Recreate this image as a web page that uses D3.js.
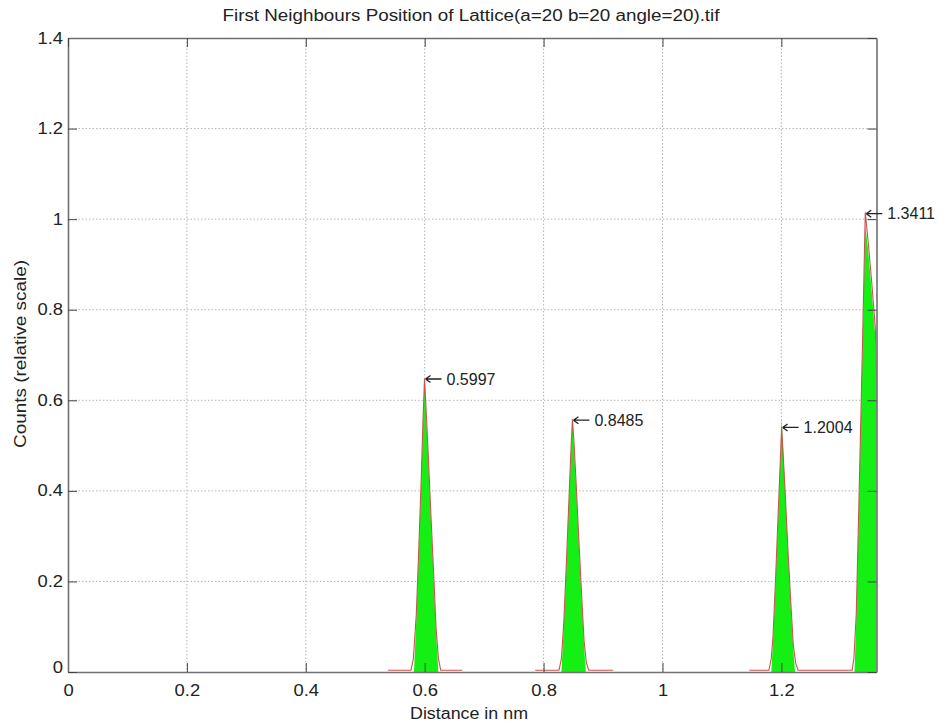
<!DOCTYPE html>
<html><head><meta charset="utf-8">
<script src="https://cdn.jsdelivr.net/npm/d3@7"></script>
<style>body{margin:0;background:#fff} text{font-family:"Liberation Sans",Arial,sans-serif;fill:#222}</style>
</head><body><svg id="c" width="950" height="724"></svg>
<script>
const titleText = "First Neighbours Position of Lattice(a=20 b=20 angle=20).tif";
const xLabel = "Distance in nm";
const yLabel = "Counts (relative scale)";
const xTicks = [0, 0.2, 0.4, 0.6, 0.8, 1, 1.2];
const yTicks = [0, 0.2, 0.4, 0.6, 0.8, 1, 1.2, 1.4];

// green histogram (counts)
const histDistance = [
  0.582, 0.586, 0.590, 0.594, 0.597, 0.5997, 0.602, 0.606, 0.610, 0.615, 0.619, 0.623,
  0.830, 0.834, 0.838, 0.842, 0.846, 0.8485, 0.851, 0.855, 0.859, 0.864, 0.868, 0.871,
  1.183, 1.186, 1.190, 1.194, 1.198, 1.2004, 1.203, 1.207, 1.211, 1.216, 1.220, 1.223,
  1.323, 1.326, 1.330, 1.334, 1.338, 1.3411, 1.346, 1.352, 1.358, 1.364, 1.370
];
const histCounts = [
  0, 0.12, 0.26, 0.41, 0.54, 0.65, 0.58, 0.47, 0.35, 0.21, 0.09, 0,
  0, 0.10, 0.22, 0.35, 0.48, 0.56, 0.50, 0.40, 0.29, 0.16, 0.06, 0,
  0, 0.07, 0.19, 0.32, 0.46, 0.56, 0.49, 0.38, 0.27, 0.14, 0.05, 0,
  0, 0.12, 0.34, 0.57, 0.80, 0.99, 0.93, 0.84, 0.74, 0.45, 0
];

// red fitted profile (null = gap)
const fitDistance = [
  0.538, 0.577, 0.581, 0.586, 0.590, 0.594, 0.597, 0.5997, 0.602, 0.606, 0.610, 0.615, 0.619, 0.623, 0.627, 0.663, null,
  0.786, 0.826, 0.830, 0.834, 0.838, 0.842, 0.846, 0.8485, 0.851, 0.855, 0.859, 0.864, 0.868, 0.872, 0.876, 0.917, null,
  1.146, 1.179, 1.183, 1.186, 1.190, 1.194, 1.198, 1.2004, 1.203, 1.207, 1.211, 1.216, 1.220, 1.224, 1.228, 1.270,
  1.319, 1.322, 1.326, 1.330, 1.334, 1.338, 1.3411, 1.346, 1.352, 1.358, 1.364, 1.370
];
const fitCounts = [
  0.004, 0.004, 0.03, 0.13, 0.27, 0.42, 0.55, 0.648, 0.59, 0.48, 0.36, 0.22, 0.10, 0.03, 0.004, 0.004, null,
  0.004, 0.004, 0.03, 0.11, 0.23, 0.36, 0.49, 0.558, 0.51, 0.41, 0.30, 0.17, 0.07, 0.02, 0.004, 0.004, null,
  0.004, 0.004, 0.03, 0.08, 0.20, 0.33, 0.46, 0.54, 0.48, 0.38, 0.27, 0.15, 0.06, 0.02, 0.004, 0.004,
  0.004, 0.03, 0.13, 0.35, 0.58, 0.82, 1.015, 0.95, 0.86, 0.76, 0.47, 0.004
];

const peakPositions = [0.5997, 0.8485, 1.2004, 1.3411];
const peakHeights = [0.647, 0.556, 0.54, 1.012];
const peakLabels = ["0.5997", "0.8485", "1.2004", "1.3411"];

const svg = d3.select("#c");
const L = 68, R = 876.5, T = 38, B = 672;
const x = d3.scaleLinear().domain([0, 1.36]).range([L, R]);
const y = d3.scaleLinear().domain([0, 1.4]).range([B, T]);

function stretch(sel, f) {
  sel.each(function () {
    const w = this.getComputedTextLength();
    d3.select(this).attr("textLength", w * f).attr("lengthAdjust", "spacingAndGlyphs");
  });
}

svg.append("defs").append("clipPath").attr("id", "clip")
  .append("rect").attr("x", L).attr("y", T).attr("width", R - L).attr("height", B - T);

// grid
const grid = svg.append("g").attr("stroke", "#b4b4b4").attr("stroke-width", 1).attr("stroke-dasharray", "1.5,2");
grid.selectAll(".gx").data(xTicks.filter(d => d > 0)).join("line")
  .attr("x1", d => x(d)).attr("x2", d => x(d)).attr("y1", T).attr("y2", B);
grid.selectAll(".gy").data(yTicks.filter(d => d > 0 && d < 1.4)).join("line")
  .attr("y1", d => y(d)).attr("y2", d => y(d)).attr("x1", L).attr("x2", R);

// data
const histData = histDistance.map((d, i) => [d, histCounts[i]]);
const fitData = fitDistance.map((d, i) => [d, fitCounts[i]]);
const plot = svg.append("g").attr("clip-path", "url(#clip)");
plot.append("path").datum(histData)
  .attr("fill", "#14f014")
  .attr("d", d3.area().x(d => x(d[0])).y0(y(0)).y1(d => y(d[1])));
plot.append("path").datum(fitData)
  .attr("fill", "none").attr("stroke", "#c8564c").attr("stroke-width", 1.1)
  .attr("d", d3.line().defined(d => d[0] !== null).x(d => x(d[0])).y(d => y(d[1])));

// axes
const axCol = "#707070";
function styleAxis(g) {
  g.select(".domain").attr("stroke", axCol).attr("stroke-width", 1.6);
  g.selectAll(".tick line").attr("stroke", "#444").attr("stroke-width", 1);
  g.selectAll(".tick text").attr("fill", "#222").style("font-size", "16px")
    .style("font-family", '"Liberation Sans",Arial,sans-serif');
}
const gx = svg.append("g").attr("transform", `translate(0,${B})`)
  .call(d3.axisBottom(x).tickValues(xTicks).tickSize(-9).tickSizeOuter(0).tickPadding(13).tickFormat(d3.format("~g")));
styleAxis(gx);
const gy = svg.append("g").attr("transform", `translate(${L},0)`)
  .call(d3.axisLeft(y).tickValues(yTicks).tickSize(-9).tickSizeOuter(0).tickPadding(5).tickFormat(d3.format("~g")));
styleAxis(gy);
const gt = svg.append("g").attr("transform", `translate(0,${T})`)
  .call(d3.axisTop(x).tickValues(xTicks).tickSize(-9).tickSizeOuter(0).tickFormat(""));
styleAxis(gt);
const gr = svg.append("g").attr("transform", `translate(${R},0)`)
  .call(d3.axisRight(y).tickValues(yTicks).tickSize(-9).tickSizeOuter(0).tickFormat(""));
styleAxis(gr);
stretch(gx.selectAll(".tick text"), 1.15);
stretch(gy.selectAll(".tick text"), 1.15);
gy.selectAll(".tick text").filter(d => d === 0).attr("dy", "0.05em");

// annotations: arrow + value
const ann = svg.append("g").selectAll("g").data(peakPositions).join("g")
  .attr("transform", (d, i) => `translate(${x(d)},${y(peakHeights[i])})`);
ann.append("path")
  .attr("d", "M1,0 L17,0 M1,0 L6,-3.5 M1,0 L6,3.5")
  .attr("stroke", "#222").attr("stroke-width", 1.3).attr("fill", "none");
ann.append("text").attr("x", 22).attr("dy", "0.35em").style("font-size", "16px")
  .text((d, i) => peakLabels[i]);

// title & labels
const t = svg.append("text").attr("x", 471).attr("y", 21).attr("text-anchor", "middle")
  .style("font-size", "16px").text(titleText);
t.attr("textLength", 497).attr("lengthAdjust", "spacingAndGlyphs");
svg.append("text").attr("x", 469).attr("y", 719).attr("text-anchor", "middle")
  .style("font-size", "16px").attr("textLength", 118).attr("lengthAdjust", "spacingAndGlyphs").text(xLabel);
svg.append("text").attr("transform", "translate(26,354) rotate(-90)").attr("text-anchor", "middle")
  .style("font-size", "16px").attr("textLength", 188).attr("lengthAdjust", "spacingAndGlyphs").text(yLabel);
</script></body></html>
